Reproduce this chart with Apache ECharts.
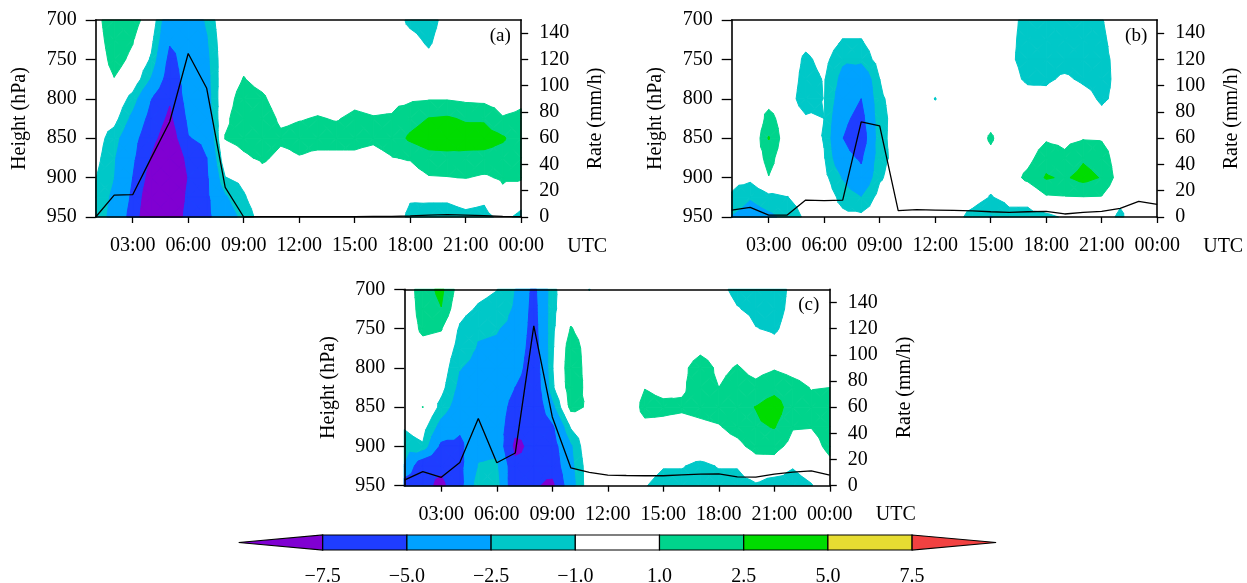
<!DOCTYPE html>
<html><head><meta charset="utf-8">
<script src="https://cdn.jsdelivr.net/npm/echarts@6/dist/echarts.min.js"></script>
<style>html,body{margin:0;padding:0;background:#fff}#chart{width:1247px;height:583px}</style>
</head><body><div id="chart"></div>
<script>
// ---------------- data ----------------
const HOURS = [1,2,3,4,5,6,7,8,9,10,11,12,13,14,15,16,17,18,19,20,21,22,23,24];
const LEVELS = [700,725,750,775,800,825,850,875,900,925,950];
const THRESHOLDS = [-7.5,-5,-2.5,-1,1,2.5,5,7.5];
const THRESHOLD_LABELS = ['\u22127.5','\u22125.0','\u22122.5','\u22121.0','1.0','2.5','5.0','7.5'];
const BAND_COLORS = ['#8000d2','#1f3dff','#00a2ff','#00c8c8','#ffffff','#00d48c','#00dc00','#e6dc32','#f24141'];
const X_TICKS = [3,6,9,12,15,18,21,24];
const P_TICKS = [700,750,800,850,900,950];
const RATE_TICKS = [0,20,40,60,80,100,120,140];
const PANEL_LABELS = ['(a)','(b)','(c)'];

// one row per hour (01:00 ... 00:00); values at 700,725,...,950 hPa
const fieldA = [
 [0.5,0.3,0.1,0.0,-0.1,-0.1,-0.2,-0.5,-0.95,-1.3,-1.6],
 [2.0,1.8,1.5,0.95,0.4,-0.4,-1.8,-2.3,-2.45,-2.9,-3.1],
 [1.6,1.1,0.7,0.2,-1.6,-3.0,-4.1,-4.5,-5.0,-5.4,-5.9],
 [0.2,-0.5,-1.2,-2.6,-4.9,-5.8,-6.6,-7.6,-8.5,-9.5,-10],
 [-4.2,-4.7,-5.6,-6.2,-7.2,-8.0,-9.0,-10.5,-11,-11,-11],
 [-4.0,-4.2,-4.0,-4.0,-4.0,-4.5,-5.1,-6.5,-7.2,-6.6,-5.85],
 [-2.2,-2.6,-2.9,-3.1,-3.3,-3.8,-4.5,-5.0,-5.3,-5.4,-5.5],
 [0.5,0.3,0.2,0.3,0.5,0.8,1.05,0.2,-1.05,-2.7,-3.5],
 [0.2,0.4,0.7,1.05,1.5,1.6,1.4,0.8,-0.5,-1.2,-2.0],
 [0,0.1,0.3,0.6,1.2,1.6,1.7,1.2,0.5,0.2,-0.2],
 [0,0,0.1,0.2,0.4,0.8,1.2,0.7,0.3,0.1,0],
 [0,0,0.1,0.3,0.6,0.95,1.3,0.95,0.4,0.1,0],
 [0,0,0.1,0.3,0.7,1.05,1.3,0.8,0.4,0.1,0],
 [0,0,0.1,0.3,0.6,0.95,1.3,0.8,0.4,0.1,0],
 [0,0,0.1,0.4,0.8,1.15,1.3,0.8,0.4,0.1,0],
 [0,0,0.1,0.3,0.7,1.05,1.2,0.6,0.3,0.1,0],
 [0,0,0.1,0.3,0.7,1.1,1.5,0.95,0.5,0.2,0],
 [-1.4,-0.5,0,0.3,0.8,1.8,2.8,1.1,0.4,-0.83,-1.4],
 [-1.8,-1.3,-0.6,0.3,0.9,2.55,3.5,1.8,0.9,-0.8,-1.5],
 [-0.26,0,0.1,0.3,0.9,2.7,3.6,1.9,0.95,-0.8,-1.5],
 [0,0,0.1,0.3,0.7,2.3,3.3,2.0,1.05,-0.5,-1.3],
 [0,0,0.1,0.3,0.6,2.3,3.2,2.0,0.8,-0.73,-1.4],
 [0,0,0.1,0.2,0.3,1.1,2.7,1.8,1.2,0.6,-0.6],
 [0,0,0.1,0.3,0.7,1.3,1.5,1.4,1.2,-0.29,-1.4]
];
const fieldB = [
 [0,0,0,0,0,0,0,-0.2,-0.5,-1.2,-2.55],
 [0,0,0,0,0,-0.9,-0.8,-0.2,-0.6,-2.3,-3.5],
 [0,0,0,0,0.3,1.6,2.6,1.5,0.95,-1.4,-2.9],
 [0,0,0,0,-0.26,0,-0.1,0,0,-1.05,-2.0],
 [0,-0.5,-1.3,-1.6,-1.8,-0.8,0,0,0,-0.3,-0.7],
 [0,0,-0.5,-0.9,-0.95,-1.0,-1.1,-0.9,-0.5,0,0],
 [0,-1.05,-2.2,-3.0,-3.6,-4.4,-4.95,-4.2,-2.6,-1.5,-0.6],
 [0,-1.05,-2.0,-4.2,-5.0,-5.8,-6.5,-5.3,-4.3,-2.4,-0.6],
 [0,0,-0.3,-1.0,-1.2,-1.3,-1.3,-1.4,-1.2,-0.4,0],
 [0,0,0,0,-0.5,-0.6,-0.55,-0.55,-0.2,0,0],
 [0,0,0,0,0,0,0,0,0,0,0],
 [0,0,0,-0.3,-1.05,-0.3,0,0,0,0,0],
 [0,0,0,0,0,0,0,0,0,0,-0.3],
 [0,0,0,0,0,0,0,0,0,-0.2,-1.6],
 [0,0,0,0,0,0.5,1.2,0.6,-0.5,-1.1,-2.6],
 [-0.7,-0.8,-0.85,-0.6,0,0,0,0,0.2,-0.5,-1.5],
 [-1.3,-1.3,-1.3,-1.2,-0.5,0,0,0.5,1.4,-0.5,-1.5],
 [-1.5,-1.5,-1.4,-1.2,-0.6,0,0.8,1.9,2.65,0.8,-1.4],
 [-1.6,-1.6,-1.5,-0.8,0,0,0.6,1.3,2.3,0.9,-0.8],
 [-1.6,-1.5,-1.5,-1.2,-0.5,0,0.9,2.3,3.0,0.95,-0.3],
 [-1.1,-1.3,-1.4,-1.4,-1.2,-0.6,0.85,1.8,2.4,0.9,0],
 [0,-0.2,-0.51,-0.6,-0.64,0,0,0,0.18,-0.5,-1.4],
 [0,0,0,0,0,0,0,0,0,0,0.6],
 [0,0,0,0,0,0,0,0,0,0,0]
];
const fieldC = [
 [0,0,0,0,0,0,-0.2,-0.9,-1.6,-2.6,-6.5],
 [1.8,1.6,1.3,0.5,0,0.3,1.02,-0.3,-1.2,-7.0,-6.8],
 [2.9,2.45,1.1,0.3,0,-0.5,-1.5,-3.2,-5.5,-7.0,-8.0],
 [0.2,-0.4,-1.2,-1.6,-2.4,-2.9,-3.5,-4.6,-5.5,-5.6,-5.8],
 [-0.5,-1.2,-2.3,-2.6,-3.0,-3.3,-3.5,-3.6,-3.3,-2.3,-1.3],
 [-0.95,-1.6,-2.4,-2.7,-3.0,-3.4,-3.7,-3.6,-3.2,-2.0,-1.5],
 [-2.5,-2.7,-2.9,-3.2,-3.6,-5.0,-5.9,-6.8,-8.0,-6.9,-7.1],
 [-5.6,-5.8,-6.0,-6.3,-6.8,-7.0,-7.2,-7.1,-6.9,-7.0,-7.2],
 [-1.5,-1.4,-1.3,-1.2,-1.1,-1.3,-3.0,-5.3,-6.0,-6.5,-8.0],
 [0.58,0.3,1.1,1.8,2.0,1.9,1.5,-0.8,-2.7,-3.0,-3.3],
 [-1.05,-0.3,0.2,0.3,0.33,0.5,0.76,0.3,0.5,0,0],
 [0,0,0,0,0,0,0,0,0,0,0],
 [0,0,0,0,0,0,-0.3,0,0,0,0],
 [0,0,0,0,0.3,0.95,1.5,0.6,0,-0.3,-0.9],
 [0,0,0,0,0.3,0.6,1.3,0.65,0,-0.9,-1.6],
 [0,0,0,0,0.6,0.8,1.2,0.5,0,-0.9,-1.6],
 [0,0,0,0.6,1.74,1.6,1.4,0.7,0.2,-1.4,-1.8],
 [-0.5,0,0,0.2,0.7,1.0,1.6,0.9,0.3,-0.9,-1.6],
 [-1.5,-0.9,0,0.5,1.1,1.5,2.0,1.5,0.6,-0.9,-1.6],
 [-1.6,-1.4,-0.95,0,0.6,1.3,2.55,2.2,1.5,0.2,-1.2],
 [-1.6,-1.5,-1.2,-0.5,0.9,1.8,3.5,2.6,1.5,0.3,-2.0],
 [-0.7,-0.6,-0.4,0,0.6,1.4,1.46,1.1,0.5,-0.9,-1.6],
 [0,0,0,0,0.4,0.95,1.3,1.05,0.4,-0.3,-1.1],
 [0,0,0,0,0.6,1.0,1.5,1.6,1.4,0.6,0.2]
];
// rain rate (mm/h), hourly 01:00 ... 00:00
const rateA = [0,16.7,17,45,72.5,124.5,98,22.6,0,0.3,0.3,0.3,0.3,0.3,0.3,0.4,0.5,0.8,1.5,1.8,1.5,1,0.5,0.3];
const rateB = [5.3,7.4,1.5,1.5,12.9,12.4,12.9,72.5,69.3,4.8,5.6,5.3,5.0,4.6,4.0,3.5,4.0,4.3,2.3,3.5,4.3,6.6,11.9,9.6];
const rateC = [4.3,10.7,6.4,17.8,51.3,17.5,25,122,52.5,13.7,10.2,8.1,7.8,7.6,7.6,8.3,8.8,9.1,6.8,6.6,8.9,10.4,11.4,8.1];

// ---------------- layout ----------------
const PANELS = [
  {left:95.7, top:20, width:425.5, height:197, field:fieldA, rate:rateA},
  {left:731.7, top:20, width:425.5, height:197, field:fieldB, rate:rateB},
  {left:404.3, top:289.3, width:425.5, height:196.4, field:fieldC, rate:rateC}
];
const FONT = "'Liberation Serif','Times New Roman',serif";

// ---------------- filled contours: cumulative layers, triangle clipping ----------------
// negative side: v <= t drawn outer→inner; positive side: v >= t drawn outer→inner
const LAYERS = [
  {t:-1, below:true, color:BAND_COLORS[3]},
  {t:-2.5, below:true, color:BAND_COLORS[2]},
  {t:-5, below:true, color:BAND_COLORS[1]},
  {t:-7.5, below:true, color:BAND_COLORS[0]},
  {t:1, below:false, color:BAND_COLORS[5]},
  {t:2.5, below:false, color:BAND_COLORS[6]},
  {t:5, below:false, color:BAND_COLORS[7]},
  {t:7.5, below:false, color:BAND_COLORS[8]}
];
function clip(poly, t, keepAbove) {
  const out = [];
  for (let i = 0; i < poly.length; i++) {
    const a = poly[i], b = poly[(i + 1) % poly.length];
    const ina = keepAbove ? a[2] >= t : a[2] <= t;
    const inb = keepAbove ? b[2] >= t : b[2] <= t;
    if (ina) out.push(a);
    if (ina !== inb) {
      const f = (t - a[2]) / (b[2] - a[2]);
      out.push([a[0] + f * (b[0] - a[0]), a[1] + f * (b[1] - a[1]), t]);
    }
  }
  return out;
}
function layerPolys(field) {
  const tris = [];
  for (let i = 0; i < HOURS.length - 1; i++) {
    for (let j = 0; j < LEVELS.length - 1; j++) {
      const a = [HOURS[i], LEVELS[j], field[i][j]];
      const b = [HOURS[i+1], LEVELS[j], field[i+1][j]];
      const c = [HOURS[i+1], LEVELS[j+1], field[i+1][j+1]];
      const d = [HOURS[i], LEVELS[j+1], field[i][j+1]];
      const m = [(a[0]+b[0])/2, (a[1]+d[1])/2, (a[2]+b[2]+c[2]+d[2])/4];
      tris.push([a,b,m],[b,c,m],[c,d,m],[d,a,m]);
    }
  }
  const out = [];
  for (const L of LAYERS) {
    for (const tri of tris) {
      const poly = clip(tri, L.t, !L.below);
      if (poly.length >= 3) out.push({pts: poly.map(q => [q[0], q[1]]), color: L.color});
    }
  }
  return out;
}

const hourFmt = v => { const h = v % 24; return (h < 10 ? '0' : '') + h + ':00'; };
const axisLineStyle = {color:'#000', width:1.6};

const grids = [], xAxes = [], yAxes = [], series = [], graphics = [];
PANELS.forEach((P, gi) => {
  grids.push({left:P.left, top:P.top, width:P.width, height:P.height, containLabel:false, outerBoundsMode:'none', show:false});
  xAxes.push({type:'value', gridIndex:gi, min:1, max:24, position:'bottom', z:10,
    axisLine:{show:true, onZero:false, lineStyle:axisLineStyle},
    axisTick:{show:true, customValues:X_TICKS, length:6, inside:false, lineStyle:{color:'#000', width:1.3}},
    axisLabel:{show:true, customValues:X_TICKS, formatter:hourFmt, margin:19, color:'#000', fontSize:20, fontFamily:FONT},
    splitLine:{show:false}});
  xAxes.push({type:'value', gridIndex:gi, min:1, max:24, position:'top', z:10,
    axisLine:{show:true, onZero:false, lineStyle:axisLineStyle},
    axisTick:{show:false}, axisLabel:{show:false}, splitLine:{show:false}});
  yAxes.push({type:'value', gridIndex:gi, min:700, max:950, inverse:true, position:'left', z:10,
    axisLine:{show:true, onZero:false, lineStyle:axisLineStyle},
    axisTick:{show:true, customValues:P_TICKS, length:10, lineStyle:{color:'#000', width:1.3}},
    axisLabel:{show:true, customValues:P_TICKS, margin:19, color:'#000', fontSize:20, fontFamily:FONT},
    splitLine:{show:false}});
  yAxes.push({type:'value', gridIndex:gi, min:0, max:150, position:'right', z:10,
    axisLine:{show:true, onZero:false, lineStyle:axisLineStyle},
    axisTick:{show:true, customValues:RATE_TICKS, length:7, lineStyle:{color:'#000', width:1.3}},
    axisLabel:{show:true, customValues:RATE_TICKS, margin:18, color:'#000', fontSize:20, fontFamily:FONT},
    splitLine:{show:false}});
  const polys = layerPolys(P.field);
  series.push({type:'custom', xAxisIndex:gi*2, yAxisIndex:gi*2, silent:true, animation:false, progressive:0, z:1,
    data: polys.map(p => p.pts[0]),
    renderItem: function (params, api) {
      const p = polys[params.dataIndex];
      return {type:'polygon', shape:{points:p.pts.map(q => api.coord(q))},
              style:{fill:p.color, stroke:p.color, lineWidth:1, lineJoin:'round'}};
    }});
  series.push({type:'line', xAxisIndex:gi*2, yAxisIndex:gi*2+1, silent:true, animation:false, z:3,
    symbol:'none', lineStyle:{color:'#000', width:1.3},
    data: HOURS.map((h, i) => [h, P.rate[i]])});

  const right = P.left + P.width, midY = P.top + P.height / 2;
  graphics.push({type:'text', x:P.left - 76, y:midY, rotation:Math.PI/2, z:20,
    style:{text:'Height (hPa)', fontSize:20, fontFamily:FONT, fill:'#000', align:'center', verticalAlign:'middle'}});
  graphics.push({type:'text', x:right + 74.5, y:midY, rotation:Math.PI/2, z:20,
    style:{text:'Rate (mm/h)', fontSize:20, fontFamily:FONT, fill:'#000', align:'center', verticalAlign:'middle'}});
  graphics.push({type:'text', x:right + 66, y:P.top + P.height + 29.5, z:20,
    style:{text:'UTC', fontSize:20, fontFamily:FONT, fill:'#000', align:'center', verticalAlign:'middle'}});
  graphics.push({type:'text', x:right - 21, y:P.top + 16, z:20,
    style:{text:PANEL_LABELS[gi], fontSize:19, fontFamily:FONT, fill:'#000', align:'center', verticalAlign:'middle'}});
});

// ---------------- colour bar ----------------
const CB = {left:322.7, step:84.2, top:535, h:15, tip:84, labelY:576.7};
const nBox = THRESHOLDS.length - 1;
graphics.push({type:'polygon', z:20, shape:{points:[[CB.left - CB.tip, CB.top + CB.h/2],[CB.left, CB.top],[CB.left, CB.top + CB.h]]},
  style:{fill:BAND_COLORS[0], stroke:'#000', lineWidth:1.2}});
for (let k = 0; k < nBox; k++) {
  graphics.push({type:'rect', z:20, shape:{x:CB.left + k*CB.step, y:CB.top, width:CB.step, height:CB.h},
    style:{fill:BAND_COLORS[k+1], stroke:'#000', lineWidth:1.2}});
}
const cbRight = CB.left + nBox*CB.step;
graphics.push({type:'polygon', z:20, shape:{points:[[cbRight, CB.top],[cbRight + CB.tip, CB.top + CB.h/2],[cbRight, CB.top + CB.h]]},
  style:{fill:BAND_COLORS[BAND_COLORS.length-1], stroke:'#000', lineWidth:1.2}});
THRESHOLD_LABELS.forEach((t, i) => {
  graphics.push({type:'text', z:20, x:CB.left + i*CB.step, y:CB.labelY,
    style:{text:t, fontSize:20, fontFamily:FONT, fill:'#000', align:'center', verticalAlign:'middle'}});
});

const chart = echarts.init(document.getElementById('chart'), null, {renderer:'canvas'});
chart.setOption({
  animation:false, backgroundColor:'#ffffff',
  grid:grids, xAxis:xAxes, yAxis:yAxes, series:series, graphic:graphics
});
</script></body></html>
